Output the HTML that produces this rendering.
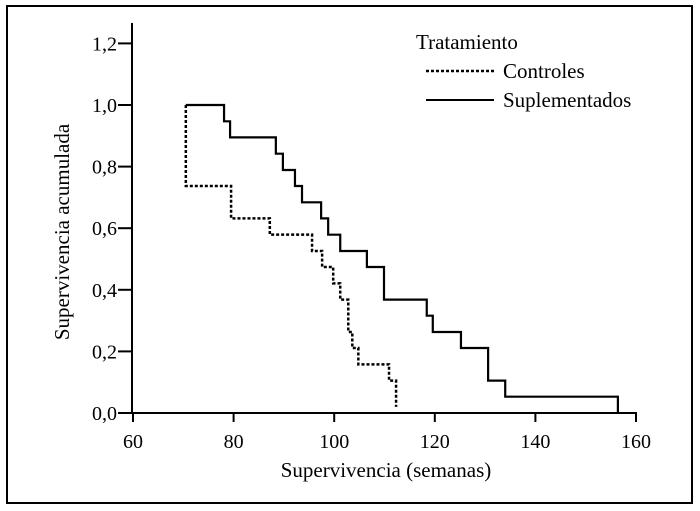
<!DOCTYPE html>
<html><head><meta charset="utf-8"><style>
body{margin:0;background:#fff}
svg{display:block;font-family:"Liberation Serif",serif}
</style></head><body>
<svg width="700" height="511" viewBox="0 0 700 511">
<rect x="7" y="6" width="685" height="497" fill="none" stroke="#000" stroke-width="2"/>
<g id="axes"></g>
<g id="series"></g>
<g>
<text x="416" y="49" font-size="21">Tratamiento</text>
<line x1="426" y1="71" x2="494" y2="71" stroke="#000" stroke-width="2.5" stroke-dasharray="3,2"/>
<text x="503" y="78" font-size="21">Controles</text>
<line x1="426" y1="100" x2="494" y2="100" stroke="#000" stroke-width="2"/>
<text x="503" y="107" font-size="21">Suplementados</text>
</g>
<text x="386" y="477" font-size="21" text-anchor="middle">Supervivencia (semanas)</text>
<text transform="translate(69,232) rotate(-90)" font-size="21" text-anchor="middle">Supervivencia acumulada</text>
</svg>
<script>
const xTicks=[60,80,100,120,140,160];
const yTicks=[0,0.2,0.4,0.6,0.8,1.0,1.2];
const yTickLabels=["0,0","0,2","0,4","0,6","0,8","1,0","1,2"];
const controlesX=[70.5,79.5,87.2,95.6,97.6,99.8,101.2,102.8,103.6,104.8,110.9,112.3];
const controlesY=[0.737,0.632,0.579,0.526,0.474,0.421,0.368,0.263,0.211,0.158,0.105,0.02];
const suplX=[70.5,78.1,79.3,88.4,89.8,92.2,93.6,97.4,98.8,101.2,106.5,109.9,118.4,119.6,125.2,130.6,134.0,156.4];
const suplY=[1.0,0.947,0.895,0.842,0.789,0.737,0.684,0.632,0.579,0.526,0.474,0.368,0.316,0.263,0.211,0.105,0.053,0.0];
const X=v=>133+(v-60)*5.03;
const Y=v=>413-v*308;
const NS="http://www.w3.org/2000/svg";
const axes=document.getElementById('axes');
function mk(tag,attrs,parent){const e=document.createElementNS(NS,tag);for(const k in attrs)e.setAttribute(k,attrs[k]);parent.appendChild(e);return e;}
const ya=mk('line',{x1:132,y1:23,x2:132,y2:414,stroke:'#000','stroke-width':2},axes);


const xa=mk('line',{x1:131,y1:413,x2:637,y2:413,stroke:'#000','stroke-width':2},axes);


xTicks.forEach(t=>{
 const l=mk('line',{x1:X(t),y1:413,x2:X(t),y2:422,stroke:'#000','stroke-width':2},axes);
 
 
 const tx=mk('text',{x:X(t),y:448,'font-size':20,'text-anchor':'middle'},axes);
 tx.textContent=t;
 
 
});
yTicks.forEach((t,i)=>{
 const l=mk('line',{x1:118,y1:Y(t),x2:132,y2:Y(t),stroke:'#000','stroke-width':2},axes);
 
 
 const tx=mk('text',{x:117,y:Y(t)+7,'font-size':20,'text-anchor':'end'},axes);
 tx.textContent=yTickLabels[i];
 
 
});
function stepPath(xs,ys,startY){
 let d='M'+X(xs[0])+','+Y(startY);
 let prev=startY;
 for(let i=0;i<xs.length;i++){
  d+=' L'+X(xs[i])+','+Y(prev)+' L'+X(xs[i])+','+Y(ys[i]);
  prev=ys[i];
 }
 return d;
}
const ser=document.getElementById('series');
const sp=mk('path',{d:'M'+X(suplX[0])+','+Y(1.0)+' '+stepPath(suplX.slice(1),suplY.slice(1),1.0).replace(/^M[^ ]+/,'L'+X(suplX[1])+','+Y(1.0)),fill:'none',stroke:'#000','stroke-width':2.2},ser);


const cp=mk('path',{d:stepPath(controlesX,controlesY,1.0),fill:'none',stroke:'#000','stroke-width':2.5,'stroke-dasharray':'3,2'},ser);


</script>
</body></html>
